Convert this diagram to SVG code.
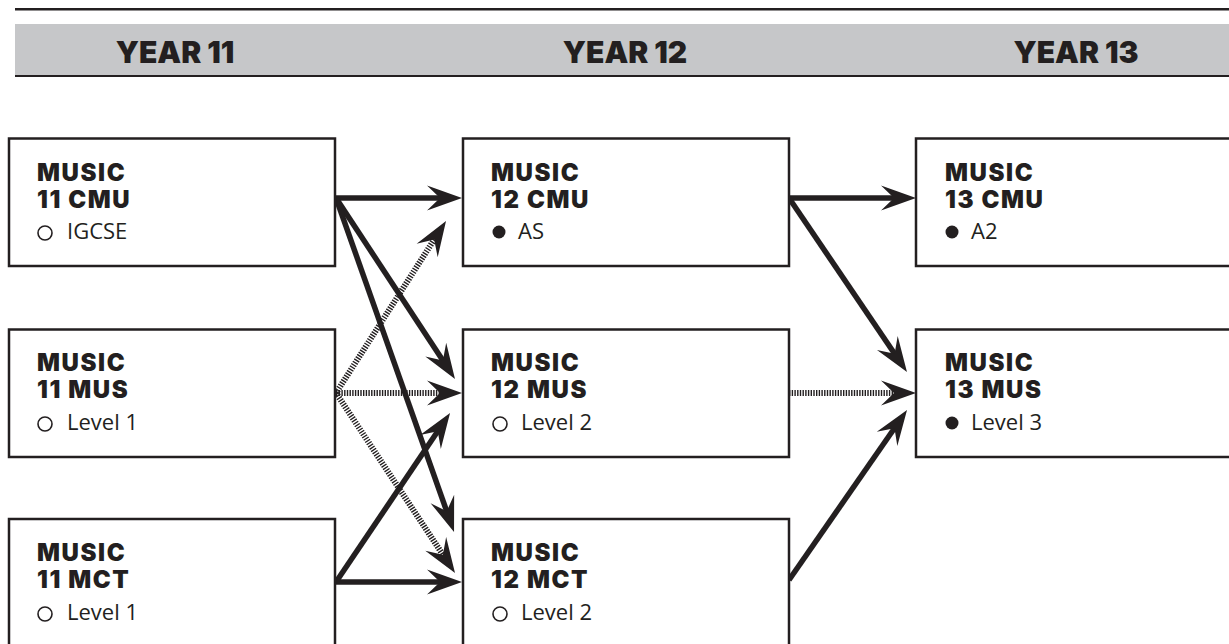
<svg xmlns="http://www.w3.org/2000/svg" width="1229" height="644" viewBox="0 0 1229 644">
<style>
.hdr{font-family:Inter,"Liberation Sans",sans-serif;font-weight:900;font-size:30px;fill:#231f20;text-anchor:middle}
.ttl{font-family:Inter,"Liberation Sans",sans-serif;font-weight:900;font-size:24px;fill:#231f20;letter-spacing:1.6px}
.sub{font-family:"Open Sans","Liberation Sans",sans-serif;font-size:22px;fill:#231f20}
.box{fill:#fff;stroke:#231f20;stroke-width:2.5}
.solid{fill:none;stroke:#231f20;stroke-width:5.5;marker-end:url(#ah)}
.dot{fill:none;stroke:#231f20;stroke-width:6;stroke-dasharray:1.4 1.3;marker-end:url(#ah)}
.ring{fill:none;stroke:#231f20;stroke-width:1.6}
.fill{fill:#231f20}
</style>
<defs>
<marker id="ah" markerUnits="userSpaceOnUse" orient="auto" refX="-16" refY="0" markerWidth="40" markerHeight="30" overflow="visible">
<path d="M0,0 L-35,-12.5 L-22,0 L-35,12.5 Z" fill="#231f20"/>
</marker>
</defs>
<rect width="1229" height="644" fill="#fff"/>
<g id="header">
<rect x="15" y="8" width="1214" height="2.5" fill="#231f20"/>
<rect x="15" y="24" width="1214" height="51" fill="#c6c7c9"/>
<rect x="15" y="75" width="1214" height="2" fill="#231f20"/>
<text class="hdr" x="175" y="63">YEAR 11</text>
<text class="hdr" x="625" y="63">YEAR 12</text>
<text class="hdr" x="1076" y="63">YEAR 13</text>
</g>
<g id="connectors">
<line class="solid" x1="336" y1="198" x2="446" y2="198"/>
<line class="solid" x1="336" y1="198" x2="446.2" y2="365.6"/>
<line class="solid" x1="336" y1="198" x2="448.7" y2="516.9"/>
<line class="dot" x1="336" y1="393" x2="437.4" y2="234.5"/>
<line class="dot" x1="336" y1="393" x2="446" y2="393"/>
<line class="dot" x1="336" y1="393" x2="446.2" y2="559.7"/>
<line class="solid" x1="336" y1="582" x2="446" y2="582"/>
<line class="solid" x1="336" y1="582" x2="441.1" y2="426.3"/>
<line class="solid" x1="789" y1="198" x2="900" y2="198"/>
<line class="solid" x1="789" y1="198" x2="898" y2="358.8"/>
<line class="dot" x1="789" y1="393" x2="900" y2="393"/>
<line class="solid" x1="789" y1="580" x2="897.9" y2="423.2"/>
</g>
<g id="music11cmu">
<rect class="box" x="9" y="138.5" width="326" height="127.5"/>
<text class="ttl" x="37" y="181">MUSIC</text>
<text class="ttl" x="37" y="208">11 CMU</text>
<circle class="ring" cx="45" cy="233" r="7"/>
<text class="sub" x="67" y="239">IGCSE</text>
</g>
<g id="music11mus">
<rect class="box" x="9" y="329.5" width="326" height="127.5"/>
<text class="ttl" x="37" y="371">MUSIC</text>
<text class="ttl" x="37" y="398">11 MUS</text>
<circle class="ring" cx="45" cy="424" r="7"/>
<text class="sub" x="67" y="430">Level 1</text>
</g>
<g id="music11mct">
<rect class="box" x="9" y="519" width="326" height="135"/>
<text class="ttl" x="37" y="561">MUSIC</text>
<text class="ttl" x="37" y="588">11 MCT</text>
<circle class="ring" cx="45" cy="614" r="7"/>
<text class="sub" x="67" y="620">Level 1</text>
</g>
<g id="music12cmu">
<rect class="box" x="463" y="138.5" width="326" height="127.5"/>
<text class="ttl" x="491" y="181">MUSIC</text>
<text class="ttl" x="491" y="208">12 CMU</text>
<circle class="fill" cx="499" cy="232" r="6.5"/>
<text class="sub" x="518" y="239">AS</text>
</g>
<g id="music12mus">
<rect class="box" x="463" y="329.5" width="326" height="127.5"/>
<text class="ttl" x="491" y="371">MUSIC</text>
<text class="ttl" x="491" y="398">12 MUS</text>
<circle class="ring" cx="500" cy="424" r="7"/>
<text class="sub" x="521" y="430">Level 2</text>
</g>
<g id="music12mct">
<rect class="box" x="463" y="519" width="326" height="135"/>
<text class="ttl" x="491" y="561">MUSIC</text>
<text class="ttl" x="491" y="588">12 MCT</text>
<circle class="ring" cx="500" cy="614" r="7"/>
<text class="sub" x="521" y="620">Level 2</text>
</g>
<g id="music13cmu">
<rect class="box" x="916" y="138.5" width="330" height="127.5"/>
<text class="ttl" x="945" y="181">MUSIC</text>
<text class="ttl" x="945" y="208">13 CMU</text>
<circle class="fill" cx="952" cy="232" r="6.5"/>
<text class="sub" x="971" y="239">A2</text>
</g>
<g id="music13mus">
<rect class="box" x="916" y="329.5" width="330" height="127.5"/>
<text class="ttl" x="945" y="371">MUSIC</text>
<text class="ttl" x="945" y="398">13 MUS</text>
<circle class="fill" cx="952" cy="423" r="6.5"/>
<text class="sub" x="971" y="430">Level 3</text>
</g>
</svg>
